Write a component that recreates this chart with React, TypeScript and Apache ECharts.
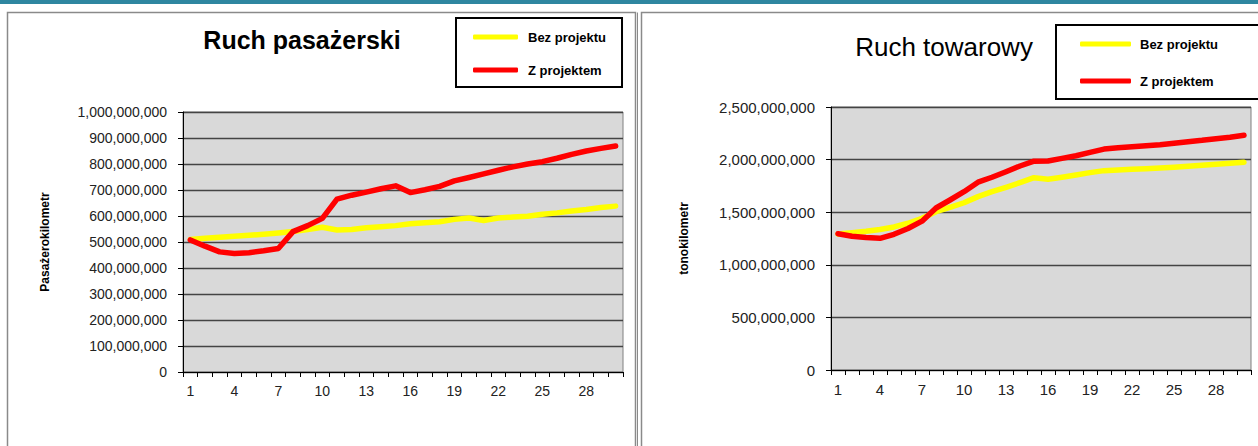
import React, { useEffect, useRef } from "react";
import * as echarts from "echarts";

const years = Array.from({ length: 30 }, (_, i) => String(i + 1));

const paxWithout = [
  510000000, 514000000, 518000000, 522000000, 526000000, 530000000, 535000000, 540000000, 548000000, 557000000,
  546000000, 548000000, 555000000, 559000000, 563000000, 570000000, 574000000, 578000000, 587000000, 592000000,
  583000000, 592000000, 596000000, 599000000, 607000000, 612000000, 619000000, 625000000, 633000000, 638000000,
];
const paxWith = [
  508000000, 484000000, 462000000, 456000000, 459000000, 466000000, 475000000, 540000000, 563000000, 591000000,
  665000000, 680000000, 692000000, 705000000, 716000000, 690000000, 701000000, 714000000, 735000000, 748000000,
  762000000, 776000000, 789000000, 800000000, 809000000, 822000000, 837000000, 850000000, 860000000, 869000000,
];
const freightWithout = [
  1293000000, 1305000000, 1318000000, 1335000000, 1360000000, 1395000000, 1442000000, 1505000000, 1545000000, 1590000000,
  1648000000, 1695000000, 1737000000, 1781000000, 1828000000, 1813000000, 1832000000, 1854000000, 1876000000, 1895000000,
  1901000000, 1908000000, 1914000000, 1920000000, 1927000000, 1936000000, 1946000000, 1955000000, 1965000000, 1974000000,
];
const freightWith = [
  1295000000, 1272000000, 1260000000, 1252000000, 1290000000, 1345000000, 1415000000, 1540000000, 1616000000, 1695000000,
  1785000000, 1832000000, 1885000000, 1939000000, 1985000000, 1987000000, 2012000000, 2037000000, 2069000000, 2100000000,
  2113000000, 2123000000, 2132000000, 2142000000, 2155000000, 2170000000, 2183000000, 2199000000, 2212000000, 2231000000,
];

const seriesNames = ["Bez projektu", "Z projektem"];
const seriesColors = ["#ffff00", "#ff0000"];
const titles = ["Ruch pasażerski", "Ruch towarowy"];
const axisNames = ["Pasażerokilometr", "tonokilometr"];

const FONT = "'Liberation Sans', Arial, sans-serif";

const fmt = (v: number) => v.toLocaleString("en-US");

export default function App() {
  const ref = useRef<HTMLDivElement>(null);
  useEffect(() => {
    if (!ref.current) return;
    const chart = echarts.init(ref.current, null, { renderer: "svg" });

    const xAxisBase = (gridIndex: number, fontSize: number) => ({
      type: "category" as const,
      gridIndex,
      data: years,
      boundaryGap: true,
      axisLine: { show: true, lineStyle: { color: "#000", width: 1 } },
      axisTick: { show: true, interval: 0, length: 5, lineStyle: { color: "#000" } },
      axisLabel: { interval: 2, margin: 12, color: "#222", fontSize, fontFamily: FONT },
      splitLine: { show: false },
    });

    const yAxisBase = (gridIndex: number, max: number, interval: number, fontSize: number, name: string, nameGap: number) => ({
      type: "value" as const,
      gridIndex,
      min: 0,
      max,
      interval,
      name,
      nameLocation: "middle" as const,
      nameGap,
      nameTextStyle: { fontWeight: "bold" as const, fontSize: 12, color: "#000", fontFamily: FONT },
      axisLine: { show: true, lineStyle: { color: "#000", width: 1 } },
      axisTick: { show: true, length: 5, lineStyle: { color: "#000" } },
      axisLabel: { formatter: fmt, margin: 16, color: "#222", fontSize, fontFamily: FONT },
      splitLine: { show: true, lineStyle: { color: "#444", width: 1.4 } },
    });

    const line = (name: string, color: string, data: number[], idx: number) => ({
      type: "line" as const,
      name,
      xAxisIndex: idx,
      yAxisIndex: idx,
      data,
      symbol: "none",
      lineStyle: { color, width: 5.5, cap: "round" as const, join: "round" as const },
      itemStyle: { color },
      z: name === seriesNames[1] ? 3 : 2,
    });

    chart.setOption({
      animation: false,
      backgroundColor: "#fff",
      title: [
        {
          text: titles[0],
          left: 302,
          top: 27,
          textAlign: "center",
          padding: 0,
          textStyle: { fontSize: 25, fontWeight: "bold", color: "#000", fontFamily: FONT, lineHeight: 25 },
        },
        {
          text: titles[1],
          left: 944,
          top: 34,
          textAlign: "center",
          padding: 0,
          textStyle: { fontSize: 26, fontWeight: "normal", color: "#000", fontFamily: FONT, lineHeight: 26 },
        },
      ],
      legend: [
        {
          data: seriesNames,
          orient: "vertical",
          left: 456,
          top: 18,
          padding: [12, 16, 10, 17],
          itemGap: 19,
          itemWidth: 45,
          itemHeight: 5,
          icon: "roundRect",
          borderColor: "#000",
          borderWidth: 2,
          selectedMode: false,
          textStyle: { fontSize: 13, fontWeight: "bold", color: "#000", fontFamily: FONT, lineHeight: 14, padding: [0, 0, 0, 5] },
        },
        {
          data: seriesNames,
          orient: "vertical",
          left: 1056,
          top: 25,
          padding: [12, 70, 11, 24],
          itemGap: 23,
          itemWidth: 51,
          itemHeight: 5,
          icon: "roundRect",
          borderColor: "#000",
          borderWidth: 2,
          selectedMode: false,
          textStyle: { fontSize: 13, fontWeight: "bold", color: "#000", fontFamily: FONT, lineHeight: 14, padding: [0, 0, 0, 4] },
        },
      ],
      grid: [
        { left: 183, top: 112, width: 440, height: 260, show: true, backgroundColor: "#d9d9d9", borderColor: "#808080", borderWidth: 1 },
        { left: 831, top: 107, width: 420, height: 263, show: true, backgroundColor: "#d9d9d9", borderColor: "#808080", borderWidth: 1 },
      ],
      xAxis: [xAxisBase(0, 14), xAxisBase(1, 15)],
      yAxis: [
        yAxisBase(0, 1000000000, 100000000, 14, axisNames[0], 132),
        yAxisBase(1, 2500000000, 500000000, 15, axisNames[1], 141),
      ],
      series: [
        line(seriesNames[0], seriesColors[0], paxWithout, 0),
        line(seriesNames[1], seriesColors[1], paxWith, 0),
        line(seriesNames[0], seriesColors[0], freightWithout, 1),
        line(seriesNames[1], seriesColors[1], freightWith, 1),
      ],
      graphic: [
        { type: "rect", silent: true, shape: { x: 0, y: 0, width: 1258, height: 4 }, style: { fill: "#2e86a0" } },
        { type: "rect", silent: true, shape: { x: 7.5, y: 12.5, width: 628, height: 460 }, style: { fill: "none", stroke: "#8a8a8a", lineWidth: 1.5 } },
        { type: "line", silent: true, shape: { x1: 637.5, y1: 12.5, x2: 637.5, y2: 446 }, style: { stroke: "#8a8a8a", lineWidth: 1 } },
        { type: "rect", silent: true, shape: { x: 641.5, y: 12.5, width: 700, height: 460 }, style: { fill: "none", stroke: "#8a8a8a", lineWidth: 1.5 } },
      ],
    });
    return () => chart.dispose();
  }, []);
  return <div ref={ref} style={{ position: "fixed", left: 0, top: 0, width: 1258, height: 446 }} />;
}
